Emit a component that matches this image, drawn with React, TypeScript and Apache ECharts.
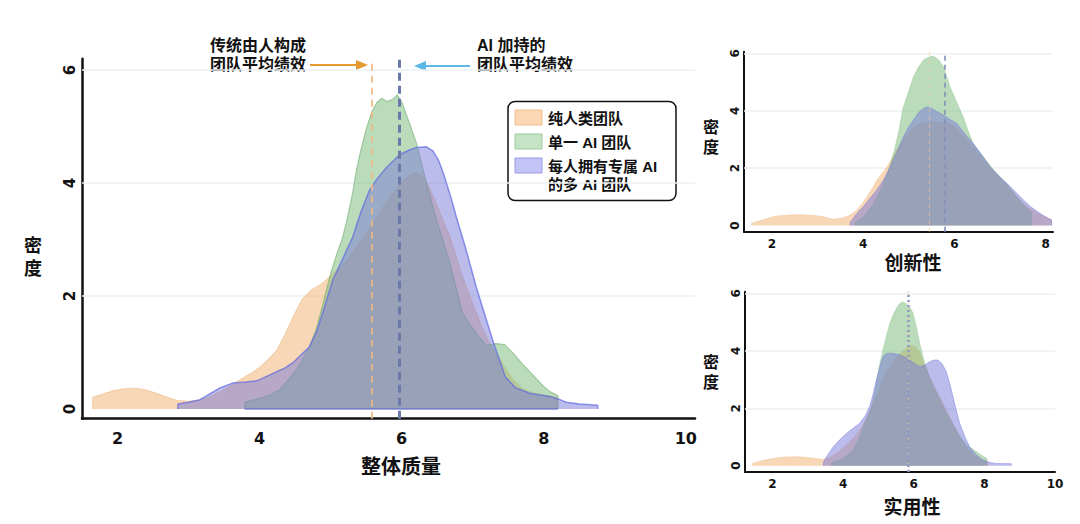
import React, { useEffect, useRef } from 'react';
import * as echarts from 'echarts';

// ---------- data ----------
const seriesNames = ['纯人类团队', '单一 AI 团队', '每人拥有专属 AI 的多 AI 团队'];
const legendLabels = [['纯人类团队'], ['单一 AI 团队'], ['每人拥有专属 AI', '的多 AI 团队']];
const panelTitles = ['整体质量', '创新性', '实用性'];
const yAxisTitleChars = ['密', '度'];
const annotationLeft = ['传统由人构成', '团队平均绩效'];
const annotationRight = ['AI 加持的', '团队平均绩效'];

const densityTicks = [0, 2, 4, 6];
const mainXTicks = [2, 4, 6, 8, 10];
const creativityXTicks = [2, 4, 6, 8];
const practicalityXTicks = [2, 4, 6, 8, 10];

// mean lines: [human team mean, AI team mean]
const overallMeans = [5.58, 5.97];
const creativityMeans = [5.45, 5.79];
const practicalityMeans = [5.83, 5.85];

const overallHuman: number[][] = [
  [1.65, 0], [1.65, 0.21], [1.8, 0.27], [1.95, 0.33], [2.1, 0.36], [2.25, 0.37], [2.4, 0.34], [2.55, 0.28],
  [2.7, 0.21], [2.85, 0.15], [3.0, 0.14], [3.15, 0.16], [3.3, 0.22], [3.45, 0.31], [3.6, 0.42], [3.76, 0.55],
  [3.9, 0.65], [4.0, 0.74], [4.12, 0.88], [4.24, 1.04], [4.35, 1.3], [4.47, 1.63], [4.6, 1.95], [4.72, 2.1],
  [4.85, 2.2], [4.95, 2.3], [5.05, 2.42], [5.17, 2.56], [5.3, 2.75], [5.45, 3.02], [5.6, 3.3], [5.75, 3.6],
  [5.9, 3.85], [6.05, 4.08], [6.18, 4.19], [6.3, 4.12], [6.4, 3.9], [6.5, 3.6], [6.68, 3.05], [6.86, 2.34],
  [7.0, 1.87], [7.15, 1.4], [7.24, 1.16], [7.4, 0.85], [7.55, 0.55], [7.7, 0.36], [7.85, 0.29], [8.0, 0.25],
  [8.2, 0.2], [8.2, 0],
];
const overallSingleAI: number[][] = [
  [3.79, 0], [3.79, 0.12], [3.9, 0.16], [4.0, 0.19], [4.15, 0.25], [4.28, 0.34], [4.38, 0.48], [4.47, 0.62],
  [4.58, 0.82], [4.7, 1.1], [4.8, 1.42], [4.9, 1.9], [5.0, 2.4], [5.08, 2.72], [5.17, 3.04], [5.24, 3.4],
  [5.31, 3.82], [5.36, 4.2], [5.41, 4.5], [5.5, 4.95], [5.58, 5.26], [5.65, 5.42], [5.72, 5.5], [5.8, 5.44],
  [5.87, 5.48], [5.94, 5.56], [6.01, 5.41], [6.11, 5.06], [6.21, 4.7], [6.35, 4.0], [6.49, 3.35], [6.68, 2.58],
  [6.86, 1.69], [7.05, 1.34], [7.19, 1.13], [7.33, 1.16], [7.45, 1.14], [7.57, 0.99], [7.7, 0.8], [7.85, 0.6],
  [8.0, 0.4], [8.1, 0.3], [8.2, 0.24], [8.2, 0],
];
const overallMultiAI: number[][] = [
  [2.85, 0], [2.85, 0.09], [3.0, 0.12], [3.15, 0.16], [3.3, 0.27], [3.45, 0.38], [3.62, 0.46], [3.8, 0.48],
  [3.96, 0.5], [4.1, 0.58], [4.24, 0.66], [4.36, 0.73], [4.47, 0.82], [4.6, 0.98], [4.7, 1.1], [4.8, 1.36],
  [4.9, 1.75], [5.03, 2.28], [5.17, 2.66], [5.31, 3.04], [5.43, 3.5], [5.55, 3.88], [5.67, 4.1], [5.79, 4.28],
  [5.97, 4.5], [6.1, 4.58], [6.21, 4.63], [6.35, 4.64], [6.44, 4.57], [6.52, 4.4], [6.58, 4.2], [6.7, 3.72],
  [6.77, 3.4], [6.9, 2.85], [7.05, 2.16], [7.2, 1.55], [7.3, 1.15], [7.46, 0.57], [7.6, 0.38], [7.8, 0.28],
  [8.1, 0.22], [8.2, 0.18], [8.32, 0.12], [8.5, 0.09], [8.76, 0.07], [8.76, 0],
];

const creativityHuman: number[][] = [
  [1.55, 0], [1.55, 0.08], [1.8, 0.2], [2.03, 0.31], [2.2, 0.35], [2.39, 0.37], [2.6, 0.38], [2.76, 0.37],
  [2.95, 0.35], [3.12, 0.31], [3.25, 0.25], [3.34, 0.22], [3.5, 0.25], [3.64, 0.31], [3.75, 0.4], [3.86, 0.54],
  [3.97, 0.75], [4.08, 1.0], [4.2, 1.3], [4.3, 1.59], [4.42, 1.85], [4.52, 2.05], [4.63, 2.35], [4.73, 2.63],
  [4.85, 2.95], [4.95, 3.15], [5.1, 3.4], [5.25, 3.55], [5.5, 3.62], [5.8, 3.6], [6.0, 3.45], [6.2, 3.15],
  [6.4, 2.75], [6.6, 2.35], [6.8, 2.0], [7.0, 1.65], [7.2, 1.3], [7.4, 0.95], [7.6, 0.65], [7.8, 0.45],
  [8.0, 0.3], [8.13, 0.2], [8.13, 0],
];
const creativitySingleAI: number[][] = [
  [3.82, 0], [3.82, 0.1], [4.0, 0.3], [4.2, 0.7], [4.4, 1.3], [4.55, 1.9], [4.68, 2.6], [4.78, 3.3],
  [4.88, 4.14], [5.0, 4.7], [5.1, 5.18], [5.2, 5.5], [5.32, 5.77], [5.45, 5.88], [5.54, 5.9], [5.65, 5.78],
  [5.76, 5.53], [5.83, 5.2], [5.9, 4.84], [6.05, 4.3], [6.19, 3.79], [6.3, 3.3], [6.41, 2.86], [6.56, 2.55],
  [6.8, 2.05], [7.0, 1.7], [7.15, 1.45], [7.3, 1.15], [7.5, 0.75], [7.69, 0.45], [7.69, 0],
];
const creativityMultiAI: number[][] = [
  [3.71, 0], [3.71, 0.1], [3.86, 0.42], [4.0, 0.65], [4.15, 0.95], [4.3, 1.24], [4.45, 1.6], [4.59, 2.05],
  [4.75, 2.6], [4.88, 3.09], [5.0, 3.45], [5.1, 3.68], [5.22, 3.95], [5.32, 4.08], [5.4, 4.13], [5.5, 4.08],
  [5.6, 3.98], [5.76, 3.85], [5.9, 3.7], [6.05, 3.56], [6.2, 3.25], [6.41, 2.86], [6.6, 2.45], [6.78, 2.05],
  [6.95, 1.75], [7.15, 1.47], [7.35, 1.15], [7.51, 0.89], [7.7, 0.62], [7.88, 0.42], [8.0, 0.3], [8.13, 0.19],
  [8.13, 0],
];

const practicalityHuman: number[][] = [
  [1.43, 0], [1.43, 0.08], [1.7, 0.18], [2.04, 0.26], [2.3, 0.3], [2.5, 0.31], [2.75, 0.31], [2.98, 0.29],
  [3.2, 0.25], [3.45, 0.22], [3.64, 0.3], [3.9, 0.5], [4.2, 0.85], [4.4, 1.12], [4.6, 1.5], [4.8, 2.0],
  [5.0, 2.6], [5.2, 3.2], [5.45, 3.7], [5.7, 4.0], [5.9, 4.2], [6.05, 4.15], [6.17, 3.95], [6.27, 3.6],
  [6.45, 3.1], [6.65, 2.6], [6.9, 2.0], [7.1, 1.5], [7.3, 1.0], [7.5, 0.62], [7.7, 0.36], [7.9, 0.22],
  [8.1, 0.15], [8.1, 0],
];
const practicalitySingleAI: number[][] = [
  [3.67, 0], [3.67, 0.1], [3.9, 0.2], [4.1, 0.35], [4.28, 0.55], [4.45, 0.95], [4.57, 1.36], [4.7, 1.75],
  [4.8, 2.06], [4.92, 2.7], [5.04, 3.57], [5.18, 4.3], [5.32, 4.96], [5.45, 5.35], [5.58, 5.62], [5.69, 5.71],
  [5.8, 5.62], [5.9, 5.5], [5.98, 5.31], [6.08, 4.8], [6.17, 4.26], [6.3, 3.6], [6.5, 2.9], [6.7, 2.4],
  [6.9, 1.9], [7.1, 1.45], [7.3, 1.05], [7.5, 0.72], [7.7, 0.55], [7.9, 0.38], [8.07, 0.25], [8.07, 0],
];
const practicalityMultiAI: number[][] = [
  [3.44, 0], [3.44, 0.12], [3.55, 0.35], [3.72, 0.66], [3.9, 0.9], [4.1, 1.13], [4.3, 1.32], [4.47, 1.48],
  [4.62, 1.72], [4.75, 2.06], [4.85, 2.5], [4.94, 2.99], [5.04, 3.45], [5.13, 3.8], [5.22, 3.9], [5.32, 3.92],
  [5.45, 3.9], [5.6, 3.86], [5.75, 3.78], [5.88, 3.68], [6.03, 3.55], [6.17, 3.45], [6.3, 3.5], [6.45, 3.62],
  [6.57, 3.68], [6.68, 3.68], [6.8, 3.55], [6.92, 3.28], [7.02, 2.85], [7.11, 2.4], [7.2, 1.95], [7.3, 1.48],
  [7.45, 1.0], [7.58, 0.66], [7.75, 0.4], [7.95, 0.2], [8.15, 0.11], [8.33, 0.08], [8.55, 0.07], [8.76, 0.07],
  [8.76, 0],
];

// ---------- styles ----------
const NUM_FONT = '"DejaVu Sans", sans-serif';
const CJK_FONT = '"Liberation Sans", "Noto Sans CJK SC", sans-serif';
const INK = '#111111';

const fills = ['rgb(240,175,110)', 'rgb(120,185,120)', 'rgb(122,122,218)'];
const edgesMain = ['rgba(238,175,120,0.5)', 'rgba(105,170,105,0.55)', 'rgba(95,105,225,0.7)'];
const edgesSmall = ['rgba(238,175,120,0.35)', 'rgba(105,170,105,0.35)', 'rgba(110,115,225,0.45)'];
const swatchFills = ['#fbd7b3', '#c5e3c5', '#c3c3f8'];
const swatchEdges = ['#f0c090', '#9cc99c', '#9a9ae6'];

function xAxisCfg(gridIndex: number, min: number, max: number, ticks: number[], fontSize: number, margin: number, width: number) {
  return {
    type: 'value', gridIndex, min, max,
    axisLine: { show: true, onZero: false, lineStyle: { color: INK, width } },
    axisTick: { show: false },
    splitLine: { show: false },
    axisLabel: {
      customValues: ticks, fontSize, fontWeight: 'bold', color: INK, fontFamily: NUM_FONT, margin,
      showMinLabel: true, showMaxLabel: true,
    },
  };
}
function yAxisCfg(gridIndex: number, min: number, max: number, fontSize: number, margin: number, width: number) {
  return {
    type: 'value', gridIndex, min, max,
    axisLine: { show: true, onZero: false, lineStyle: { color: INK, width } },
    axisTick: { show: false },
    splitLine: { show: false },
    axisLabel: {
      customValues: densityTicks, fontSize, fontWeight: 'bold', color: INK, fontFamily: NUM_FONT, margin, rotate: 90,
      showMinLabel: true, showMaxLabel: true,
    },
  };
}

function gridMarkLine() {
  return {
    silent: true, symbol: ['none', 'none'], label: { show: false }, z: 1,
    lineStyle: { color: '#edf0f0', width: 1.5, type: 'solid' },
    data: densityTicks.filter((t) => t > 0).map((t) => ({ yAxis: t })),
  };
}

function meanMarkLine(means: number[], humanStyle: any, aiStyle: any, extra: any[] = []) {
  return {
    silent: true, symbol: ['none', 'none'], label: { show: false }, z: 6,
    data: [
      { xAxis: means[0], lineStyle: humanStyle },
      { xAxis: means[1], lineStyle: aiStyle },
      ...extra,
    ],
  };
}

function area(idx: number, data: number[][], axis: number, lineWidth: number, markLine?: any) {
  const s: any = {
    type: 'line', name: seriesNames[idx], xAxisIndex: axis, yAxisIndex: axis, data,
    symbol: 'none', showSymbol: false, silent: true, smooth: false,
    lineStyle: { color: axis === 0 ? edgesMain[idx] : edgesSmall[idx], width: lineWidth },
    areaStyle: { color: fills[idx], opacity: 0.5 },
    z: 2 + idx,
  };
  if (markLine) s.markLine = markLine;
  return s;
}

function txt(x: number, y: number, text: string, fontSize: number, align: string, font = CJK_FONT) {
  return {
    type: 'text', x, y, silent: true,
    style: {
      text, fontSize, fontWeight: 'bold', fontFamily: font, fill: INK,
      align, verticalAlign: 'middle', textAlign: align, textVerticalAlign: 'middle',
    },
  };
}

function buildOption() {
  const series = [
    // main panel
    area(0, overallHuman, 0, 1, gridMarkLine()),
    area(1, overallSingleAI, 0, 1.2),
    area(2, overallMultiAI, 0, 1.5, meanMarkLine(
      overallMeans,
      { color: 'rgba(240,185,130,0.85)', width: 2, type: [7, 5] },
      { color: '#6a79a8', width: 3, type: [8, 5] },
      [[{ coord: [overallSingleAI[0][0], 0], lineStyle: { color: 'rgba(90,100,200,0.75)', width: 1.5, type: 'solid' } }, { coord: [overallSingleAI[overallSingleAI.length - 1][0], 0] }]],
    )),
    // creativity
    area(0, creativityHuman, 1, 0.8, gridMarkLine()),
    area(1, creativitySingleAI, 1, 0.8),
    area(2, creativityMultiAI, 1, 1, meanMarkLine(
      creativityMeans,
      { color: 'rgba(240,200,160,0.6)', width: 1.2, type: [4, 4] },
      { color: '#8391b9', width: 1.6, type: [5, 4] },
    )),
    // practicality
    area(0, practicalityHuman, 2, 0.8, gridMarkLine()),
    area(1, practicalitySingleAI, 2, 0.8),
    area(2, practicalityMultiAI, 2, 1, meanMarkLine(
      practicalityMeans,
      { color: 'rgba(240,200,160,0.6)', width: 1.2, type: [4, 4] },
      { color: '#8d99c0', width: 2.5, type: [2, 3] },
    )),
  ];

  const legendRows = [[118], [142], [166, 184.5]];
  const legendSwatchTop = [110, 134, 158];
  const legendChildren: any[] = [
    { type: 'rect', shape: { x: 508, y: 101.5, width: 168, height: 99, r: 7 }, style: { fill: '#fff', stroke: INK, lineWidth: 1.5 } },
  ];
  legendLabels.forEach((lines, i) => {
    legendChildren.push({ type: 'rect', shape: { x: 515, y: legendSwatchTop[i], width: 27, height: 15 }, style: { fill: swatchFills[i], stroke: swatchEdges[i], lineWidth: 1 } });
    lines.forEach((line, j) => legendChildren.push(txt(548, legendRows[i][j], line, 15, 'left')));
  });

  const graphic: any[] = [
    txt(33, 246, yAxisTitleChars[0], 18, 'center'),
    txt(33, 268.5, yAxisTitleChars[1], 18, 'center'),
    txt(401, 467, panelTitles[0], 20, 'center'),
    txt(711, 127, yAxisTitleChars[0], 16, 'center'),
    txt(711, 147, yAxisTitleChars[1], 16, 'center'),
    txt(913, 263, panelTitles[1], 19, 'center'),
    txt(711, 362.5, yAxisTitleChars[0], 16, 'center'),
    txt(711, 382.5, yAxisTitleChars[1], 16, 'center'),
    txt(912, 507, panelTitles[2], 19, 'center'),
    txt(306, 45, annotationLeft[0], 16, 'right'),
    txt(306, 64.5, annotationLeft[1], 16, 'right'),
    txt(477, 45, annotationRight[0], 16, 'left'),
    txt(477, 64.5, annotationRight[1], 16, 'left'),
    { type: 'line', silent: true, shape: { x1: 310, y1: 65, x2: 359, y2: 65 }, style: { stroke: '#e49a2e', lineWidth: 2 } },
    { type: 'polygon', silent: true, shape: { points: [[368, 65], [356, 60], [356, 70]] }, style: { fill: '#e49a2e' } },
    { type: 'line', silent: true, shape: { x1: 470, y1: 66, x2: 424, y2: 66 }, style: { stroke: '#5bb7e5', lineWidth: 2 } },
    { type: 'polygon', silent: true, shape: { points: [[414, 66], [426, 61], [426, 71]] }, style: { fill: '#5bb7e5' } },
    { type: 'group', silent: true, children: legendChildren },
  ];

  return {
    animation: false,
    backgroundColor: '#ffffff',
    grid: [
      { left: 82, top: 58.7, width: 613, height: 360, containLabel: false, outerBoundsMode: 'none' },
      { left: 744, top: 51.7, width: 309, height: 180, containLabel: false, outerBoundsMode: 'none' },
      { left: 745, top: 291.7, width: 310, height: 180.3, containLabel: false, outerBoundsMode: 'none' },
    ],
    xAxis: [
      xAxisCfg(0, 1.5, 10.13, mainXTicks, 16, 12, 2.5),
      xAxisCfg(1, 1.386, 8.16, creativityXTicks, 12, 6, 2),
      xAxisCfg(2, 1.22, 10, practicalityXTicks, 12, 6, 2),
    ],
    yAxis: [
      yAxisCfg(0, -0.17, 6.2, 15, 5, 2.5),
      yAxisCfg(1, -0.216, 6.06, 12, 3, 2),
      yAxisCfg(2, -0.22, 6.06, 12, 3, 2),
    ],
    series,
    graphic,
  };
}

export default function App() {
  const ref = useRef<HTMLDivElement>(null);
  useEffect(() => {
    if (!ref.current) return;
    const chart = echarts.init(ref.current, null, { renderer: 'svg' });
    chart.setOption(buildOption() as any);
    return () => chart.dispose();
  }, []);
  return (
    <div
      ref={ref}
      style={{ position: 'fixed', left: 0, top: 0, width: 1080, height: 524, background: '#ffffff' }}
    />
  );
}
